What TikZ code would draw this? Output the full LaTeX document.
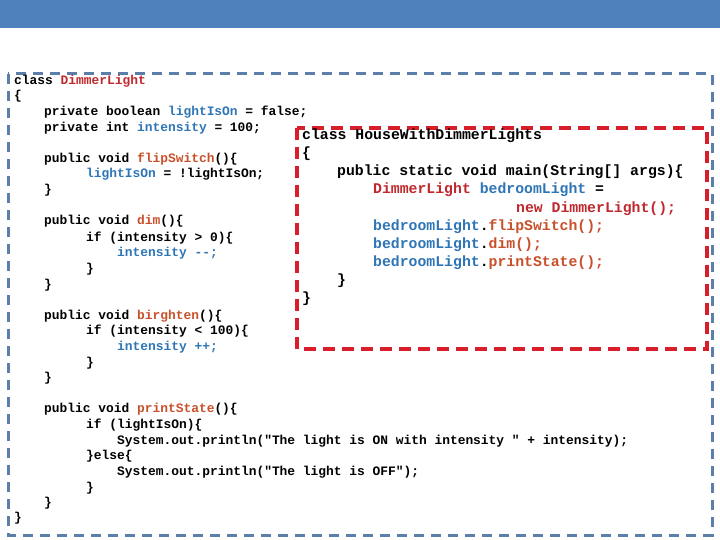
\documentclass[tikz,border=0pt]{standalone}
\usepackage{fontspec}
\setmonofont{Liberation Mono}
\definecolor{band}{HTML}{4F81BD}
\definecolor{bdash}{HTML}{5B7FA8}
\definecolor{rdash}{HTML}{D81E2A}
\definecolor{cred}{HTML}{C0282D}
\definecolor{cblue}{HTML}{2E75B6}
\definecolor{corg}{HTML}{C8502A}
\newcommand\cR[1]{\textcolor{cred}{#1}}
\newcommand\cB[1]{\textcolor{cblue}{#1}}
\newcommand\cO[1]{\textcolor{corg}{#1}}
\tikzset{code/.style={anchor=base west,inner sep=0pt,font=\fontsize{12.9}{14}\ttfamily\bfseries},
 codeb/.style={anchor=base west,inner sep=0pt,font=\fontsize{14.8}{16}\ttfamily\bfseries},
 bluebox/.style={draw=bdash,line width=3pt,dash pattern=on 10pt off 7pt},
 redbox/.style={draw=rdash,line width=3.5pt,dash pattern=on 12pt off 7pt,fill=white}}
\begin{document}
\begin{tikzpicture}[x=1pt,y=-1pt]
\useasboundingbox (0,0) rectangle (720,540);
\fill[band] (0,0) rectangle (720,28);
\draw[bluebox] (8,74) rectangle (712,535);
\draw[redbox] (297,128) rectangle (707,349);
\node[code] (l1) at (14,85) {class \cR{DimmerLight}};
\node[code] (l2) at (14,100) {\{};
\node[code] (l3) at (44,116) {private boolean \cB{lightIsOn} = false;};
\node[code] (l4) at (44,132) {private int \cB{intensity} = 100;};
\node[code] (l5) at (44,163) {public void \cO{flipSwitch}()\{};
\node[code] (l6) at (86,178) {\cB{lightIsOn} = !lightIsOn;};
\node[code] (l7) at (44,194) {\}};
\node[code] (l8) at (44,225) {public void \cO{dim}()\{};
\node[code] (l9) at (86,241) {if (intensity > 0)\{};
\node[code] (l10) at (117,256) {\cB{intensity --;}};
\node[code] (l11) at (86,272) {\}};
\node[code] (l12) at (44,288) {\}};
\node[code] (l13) at (44,319) {public void \cO{birghten}()\{};
\node[code] (l14) at (86,334) {if (intensity < 100)\{};
\node[code] (l15) at (117,350) {\cB{intensity ++;}};
\node[code] (l16) at (86,366) {\}};
\node[code] (l17) at (44,381) {\}};
\node[code] (l18) at (44,412) {public void \cO{printState}()\{};
\node[code] (l19) at (86,428) {if (lightIsOn)\{};
\node[code] (l20) at (117,444) {System.out.println("The light is ON with intensity " + intensity);};
\node[code] (l21) at (86,459) {\}else\{};
\node[code] (l22) at (117,475) {System.out.println("The light is OFF");};
\node[code] (l23) at (86,491) {\}};
\node[code] (l24) at (44,506) {\}};
\node[code] (l25) at (14,521) {\}};
\node[codeb] (r1) at (302,140) {class HouseWithDimmerLights};
\node[codeb] (r2) at (302,158) {\{};
\node[codeb] (r3) at (337,176) {public static void main(String[] args)\{};
\node[codeb] (r4) at (373,194) {\cR{DimmerLight} \cB{bedroomLight} =};
\node[codeb] (r5) at (516,212) {\cR{new DimmerLight();}};
\node[codeb] (r6) at (373,230) {\cB{bedroomLight}.\cO{flipSwitch();}};
\node[codeb] (r7) at (373,248) {\cB{bedroomLight}.\cO{dim();}};
\node[codeb] (r8) at (373,266) {\cB{bedroomLight}.\cO{printState();}};
\node[codeb] (r9) at (337,284) {\}};
\node[codeb] (r10) at (302,302) {\}};
\end{tikzpicture}
\end{document}
